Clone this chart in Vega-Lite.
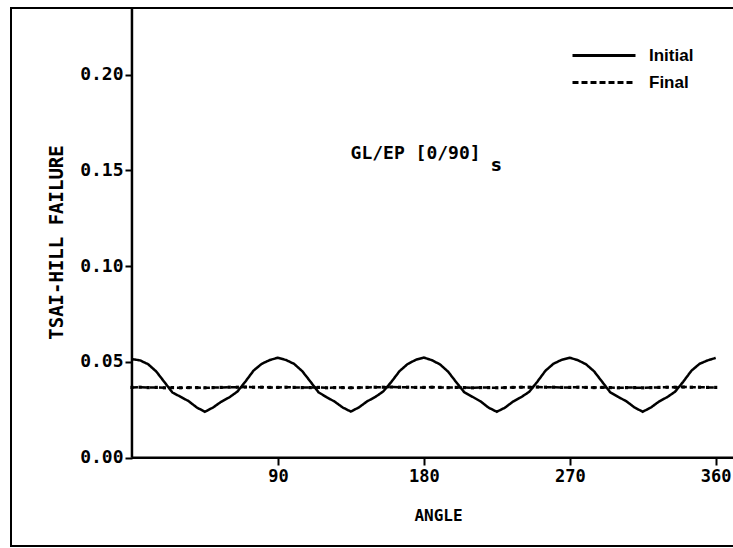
{
  "$schema": "https://vega.github.io/schema/vega-lite/v6.json",
  "width": 724,
  "height": 538,
  "autosize": {"type": "none"},
  "padding": {"left": 11, "top": 8, "right": 0, "bottom": 2},
  "background": "white",
  "config": {
    "view": {"stroke": "black", "strokeWidth": 2},
    "axis": {"grid": false, "domain": false, "tickColor": "black", "tickWidth": 2, "labelColor": "black", "titleColor": "black", "labelFont": "DejaVu Sans Mono", "titleFont": "DejaVu Sans Mono", "labelFontWeight": "bold", "titleFontWeight": "bold"}
  },
  "datasets": {
    "series": [
      {"s":"Initial","angle":0,"value":0.0515},{"s":"Initial","angle":5,"value":0.0508},{"s":"Initial","angle":10,"value":0.0488},{"s":"Initial","angle":15,"value":0.0450},{"s":"Initial","angle":20,"value":0.0395},{"s":"Initial","angle":25,"value":0.0340},{"s":"Initial","angle":30,"value":0.0318},{"s":"Initial","angle":35,"value":0.0295},{"s":"Initial","angle":40,"value":0.0262},{"s":"Initial","angle":45,"value":0.0240},{"s":"Initial","angle":50,"value":0.0262},{"s":"Initial","angle":55,"value":0.0292},{"s":"Initial","angle":60,"value":0.0315},{"s":"Initial","angle":65,"value":0.0345},{"s":"Initial","angle":70,"value":0.0398},{"s":"Initial","angle":75,"value":0.0455},{"s":"Initial","angle":80,"value":0.0490},{"s":"Initial","angle":85,"value":0.0510},{"s":"Initial","angle":90,"value":0.0522},
      {"s":"Initial","angle":95,"value":0.0510},{"s":"Initial","angle":100,"value":0.0490},{"s":"Initial","angle":105,"value":0.0452},{"s":"Initial","angle":110,"value":0.0398},{"s":"Initial","angle":115,"value":0.0342},{"s":"Initial","angle":120,"value":0.0316},{"s":"Initial","angle":125,"value":0.0293},{"s":"Initial","angle":130,"value":0.0262},{"s":"Initial","angle":135,"value":0.0241},{"s":"Initial","angle":140,"value":0.0263},{"s":"Initial","angle":145,"value":0.0294},{"s":"Initial","angle":150,"value":0.0317},{"s":"Initial","angle":155,"value":0.0346},{"s":"Initial","angle":160,"value":0.0396},{"s":"Initial","angle":165,"value":0.0452},{"s":"Initial","angle":170,"value":0.0489},{"s":"Initial","angle":175,"value":0.0511},{"s":"Initial","angle":180,"value":0.0523},
      {"s":"Initial","angle":185,"value":0.0509},{"s":"Initial","angle":190,"value":0.0487},{"s":"Initial","angle":195,"value":0.0449},{"s":"Initial","angle":200,"value":0.0394},{"s":"Initial","angle":205,"value":0.0341},{"s":"Initial","angle":210,"value":0.0318},{"s":"Initial","angle":215,"value":0.0294},{"s":"Initial","angle":220,"value":0.0261},{"s":"Initial","angle":225,"value":0.0240},{"s":"Initial","angle":230,"value":0.0261},{"s":"Initial","angle":235,"value":0.0293},{"s":"Initial","angle":240,"value":0.0316},{"s":"Initial","angle":245,"value":0.0344},{"s":"Initial","angle":250,"value":0.0397},{"s":"Initial","angle":255,"value":0.0454},{"s":"Initial","angle":260,"value":0.0491},{"s":"Initial","angle":265,"value":0.0511},{"s":"Initial","angle":270,"value":0.0522},
      {"s":"Initial","angle":275,"value":0.0509},{"s":"Initial","angle":280,"value":0.0488},{"s":"Initial","angle":285,"value":0.0451},{"s":"Initial","angle":290,"value":0.0396},{"s":"Initial","angle":295,"value":0.0341},{"s":"Initial","angle":300,"value":0.0317},{"s":"Initial","angle":305,"value":0.0294},{"s":"Initial","angle":310,"value":0.0262},{"s":"Initial","angle":315,"value":0.0240},{"s":"Initial","angle":320,"value":0.0262},{"s":"Initial","angle":325,"value":0.0293},{"s":"Initial","angle":330,"value":0.0316},{"s":"Initial","angle":335,"value":0.0345},{"s":"Initial","angle":340,"value":0.0397},{"s":"Initial","angle":345,"value":0.0454},{"s":"Initial","angle":350,"value":0.0490},{"s":"Initial","angle":355,"value":0.0508},{"s":"Initial","angle":360,"value":0.0521},
      {"s":"Final","angle":0,"value":0.0367},{"s":"Final","angle":5,"value":0.0368},{"s":"Final","angle":10,"value":0.0366},{"s":"Final","angle":15,"value":0.0367},{"s":"Final","angle":20,"value":0.0365},{"s":"Final","angle":25,"value":0.0366},{"s":"Final","angle":30,"value":0.0365},{"s":"Final","angle":35,"value":0.0366},{"s":"Final","angle":40,"value":0.0366},{"s":"Final","angle":45,"value":0.0365},{"s":"Final","angle":50,"value":0.0366},{"s":"Final","angle":55,"value":0.0367},{"s":"Final","angle":60,"value":0.0368},{"s":"Final","angle":65,"value":0.0368},{"s":"Final","angle":70,"value":0.0369},{"s":"Final","angle":75,"value":0.0368},{"s":"Final","angle":80,"value":0.0368},{"s":"Final","angle":85,"value":0.0367},{"s":"Final","angle":90,"value":0.0367},
      {"s":"Final","angle":95,"value":0.0368},{"s":"Final","angle":100,"value":0.0367},{"s":"Final","angle":105,"value":0.0366},{"s":"Final","angle":110,"value":0.0366},{"s":"Final","angle":115,"value":0.0367},{"s":"Final","angle":120,"value":0.0365},{"s":"Final","angle":125,"value":0.0366},{"s":"Final","angle":130,"value":0.0366},{"s":"Final","angle":135,"value":0.0365},{"s":"Final","angle":140,"value":0.0366},{"s":"Final","angle":145,"value":0.0367},{"s":"Final","angle":150,"value":0.0368},{"s":"Final","angle":155,"value":0.0368},{"s":"Final","angle":160,"value":0.0369},{"s":"Final","angle":165,"value":0.0368},{"s":"Final","angle":170,"value":0.0368},{"s":"Final","angle":175,"value":0.0367},{"s":"Final","angle":180,"value":0.0367},
      {"s":"Final","angle":185,"value":0.0368},{"s":"Final","angle":190,"value":0.0367},{"s":"Final","angle":195,"value":0.0366},{"s":"Final","angle":200,"value":0.0367},{"s":"Final","angle":205,"value":0.0366},{"s":"Final","angle":210,"value":0.0365},{"s":"Final","angle":215,"value":0.0366},{"s":"Final","angle":220,"value":0.0366},{"s":"Final","angle":225,"value":0.0365},{"s":"Final","angle":230,"value":0.0366},{"s":"Final","angle":235,"value":0.0367},{"s":"Final","angle":240,"value":0.0368},{"s":"Final","angle":245,"value":0.0368},{"s":"Final","angle":250,"value":0.0369},{"s":"Final","angle":255,"value":0.0368},{"s":"Final","angle":260,"value":0.0368},{"s":"Final","angle":265,"value":0.0367},{"s":"Final","angle":270,"value":0.0367},
      {"s":"Final","angle":275,"value":0.0368},{"s":"Final","angle":280,"value":0.0367},{"s":"Final","angle":285,"value":0.0366},{"s":"Final","angle":290,"value":0.0367},{"s":"Final","angle":295,"value":0.0366},{"s":"Final","angle":300,"value":0.0365},{"s":"Final","angle":305,"value":0.0366},{"s":"Final","angle":310,"value":0.0366},{"s":"Final","angle":315,"value":0.0365},{"s":"Final","angle":320,"value":0.0366},{"s":"Final","angle":325,"value":0.0367},{"s":"Final","angle":330,"value":0.0368},{"s":"Final","angle":335,"value":0.0368},{"s":"Final","angle":340,"value":0.0369},{"s":"Final","angle":345,"value":0.0368},{"s":"Final","angle":350,"value":0.0368},{"s":"Final","angle":355,"value":0.0367},{"s":"Final","angle":360,"value":0.0367}
    ]
  },
  "encoding": {
    "x": {
      "field": "angle", "type": "quantitative",
      "scale": {"domain": [-74.6, 371.9], "nice": false, "zero": false},
      "axis": {"offset": -88, "values": [90, 180, 270, 360], "tickSize": 7, "labelPadding": 3, "labelFontSize": 17, "title": "ANGLE", "titleFontSize": 16, "titleX": 427, "titleY": 57, "titleBaseline": "middle"}
    },
    "y": {
      "field": "value", "type": "quantitative",
      "scale": {"domain": [-0.0461, 0.2348], "nice": false, "zero": false},
      "axis": {"offset": -121, "values": [0, 0.05, 0.1, 0.15, 0.2], "format": ".2f", "tickSize": 7, "labelPadding": 2, "labelFontSize": 18, "title": "TSAI-HILL FAILURE", "titleFontSize": 19, "titleX": -76, "titleY": 234, "titleBaseline": "middle", "titleAlign": "center"}
    }
  },
  "layer": [
    {
      "data": {"name": "series"},
      "mark": {"type": "line", "color": "black", "strokeWidth": 2.5},
      "encoding": {
        "strokeDash": {
          "field": "s", "type": "nominal",
          "scale": {"domain": ["Initial", "Final"], "range": [[1, 0], [6, 3]]},
          "legend": {"title": null, "orient": "none", "legendX": 560, "legendY": 34, "symbolType": "stroke", "symbolSize": 3969, "symbolStrokeWidth": 3, "symbolStrokeColor": "black", "labelFont": "Liberation Sans", "labelFontWeight": "bold", "labelFontSize": 17, "labelColor": "black", "labelOffset": 12, "rowPadding": 0, "clipHeight": 27}
        }
      }
    },
    {
      "data": {"name": "series"},
      "transform": [{"filter": "datum.s === 'Final'"}],
      "mark": {"type": "point", "shape": "square", "filled": true, "color": "black", "size": 10, "opacity": 1}
    },
    {
      "data": {"values": [{"angle": 0, "value": 0, "value2": 0.2348}]},
      "mark": {"type": "rule", "color": "black", "strokeWidth": 2.5},
      "encoding": {"y2": {"field": "value2"}}
    },
    {
      "data": {"values": [{"angle": 0, "angle2": 371.9, "value": 0}]},
      "mark": {"type": "rule", "color": "black", "strokeWidth": 2.5},
      "encoding": {"x2": {"field": "angle2"}}
    },
    {
      "data": {"values": [{"label": "GL/EP [0/90]", "angle": 134.8, "value": 0.1588}]},
      "mark": {"type": "text", "align": "left", "baseline": "middle", "font": "DejaVu Sans Mono", "fontWeight": "bold", "fontSize": 18, "color": "black"},
      "encoding": {"text": {"field": "label"}}
    },
    {
      "data": {"values": [{"label": "s", "angle": 221.5, "value": 0.1522}]},
      "mark": {"type": "text", "align": "left", "baseline": "middle", "font": "DejaVu Sans", "fontWeight": "bold", "fontSize": 17, "color": "black"},
      "encoding": {"text": {"field": "label"}}
    }
  ]
}
